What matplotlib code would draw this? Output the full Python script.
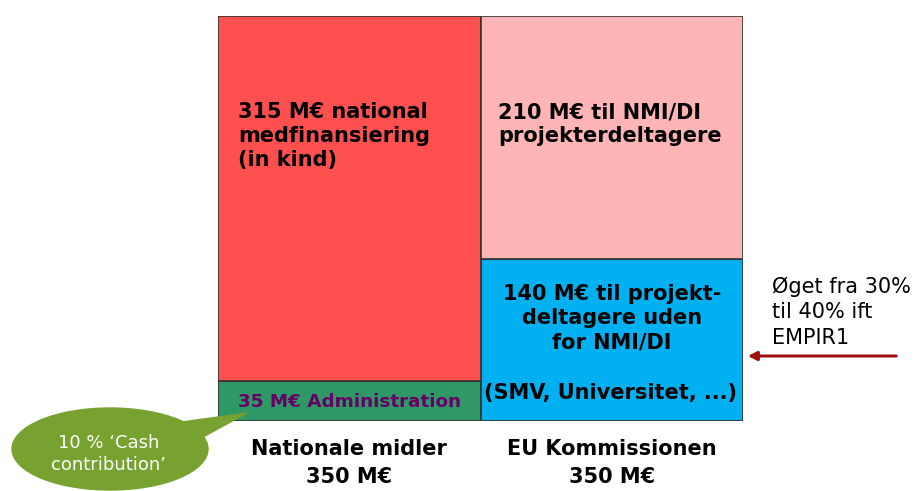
import numpy as np
import matplotlib.pyplot as plt
from matplotlib.patches import Ellipse, Polygon

# data (M€)
kolonner = ['Nationale midler\n350 M€', 'EU Kommissionen\n350 M€']
nederst = [35, 140]    # Administration / projektdeltagere uden for NMI/DI
overst = [315, 210]    # national medfinansiering / til NMI/DI
farve_ned = ['#2E9966', '#00B0F0']
farve_op = ['#FF5050', '#FFB5B5']

fig = plt.figure(figsize=(9.17, 4.91), dpi=100)
W, H = 917, 491

# bar-aksen placeres i pixels
x0, x1, ytop, ybund = 218, 743, 16, 421
ax = fig.add_axes([x0 / W, (H - ybund) / H, (x1 - x0) / W, (ybund - ytop) / H])
x = np.arange(len(kolonner)) + 0.5
ax.bar(x, nederst, width=1, color=farve_ned, edgecolor='#333333', linewidth=1.2)
ax.bar(x, overst, width=1, bottom=nederst, color=farve_op, edgecolor='#333333', linewidth=1.2)
ax.set_xlim(0, 2)
ax.set_ylim(0, max(np.array(nederst) + np.array(overst)))
ax.axis('off')

# overlay i pixel-koordinater til tekst og pile
ov = fig.add_axes([0, 0, 1, 1], zorder=5)
ov.set_xlim(0, W)
ov.set_ylim(H, 0)
ov.axis('off')

fs = 15
ov.text(238, 136, '315 M€ national\nmedfinansiering\n(in kind)', fontsize=fs, weight='bold',
        va='center', ha='left', linespacing=1.25)
ov.text(498, 124, '210 M€ til NMI/DI\nprojekterdeltagere', fontsize=fs, weight='bold',
        va='center', ha='left', linespacing=1.25)
ov.text(612, 318, '140 M€ til projekt-\ndeltagere uden\nfor NMI/DI', fontsize=fs, weight='bold',
        va='center', ha='center', linespacing=1.25)
ov.text(611, 393, '(SMV, Universitet, ...)', fontsize=fs, weight='bold', va='center', ha='center')
ov.text(349, 402, '35 M€ Administration', fontsize=13.2, weight='bold', color='#660066',
        va='center', ha='center')

# kategori-labels under soejlerne
for i, lab in enumerate(kolonner):
    xp = x0 + (x1 - x0) * x[i] / 2
    ov.text(xp, 463, lab, fontsize=fs, weight='bold', va='center', ha='center', linespacing=1.45)

# pil og kommentar til hoejre
ov.annotate('', xy=(745, 356), xytext=(899, 356),
            arrowprops=dict(arrowstyle='-|>', color='#A01010', lw=2.2, mutation_scale=13))
ov.text(772, 312, 'Øget fra 30%\ntil 40% ift\nEMPIR1', fontsize=15, va='center', ha='left',
        linespacing=1.35)

# taleboble
gron = '#77A22F'
ov.add_patch(Polygon([(182, 422), (247, 413), (203, 437)], closed=True, color=gron, zorder=3))
ov.add_patch(Ellipse((110, 449), 196, 82, color=gron, zorder=3))
ov.text(109, 454, '10 % ‘Cash\ncontribution’', fontsize=13, color='white', va='center',
        ha='center', zorder=4, linespacing=1.25)

plt.savefig('out.png', dpi=100)
